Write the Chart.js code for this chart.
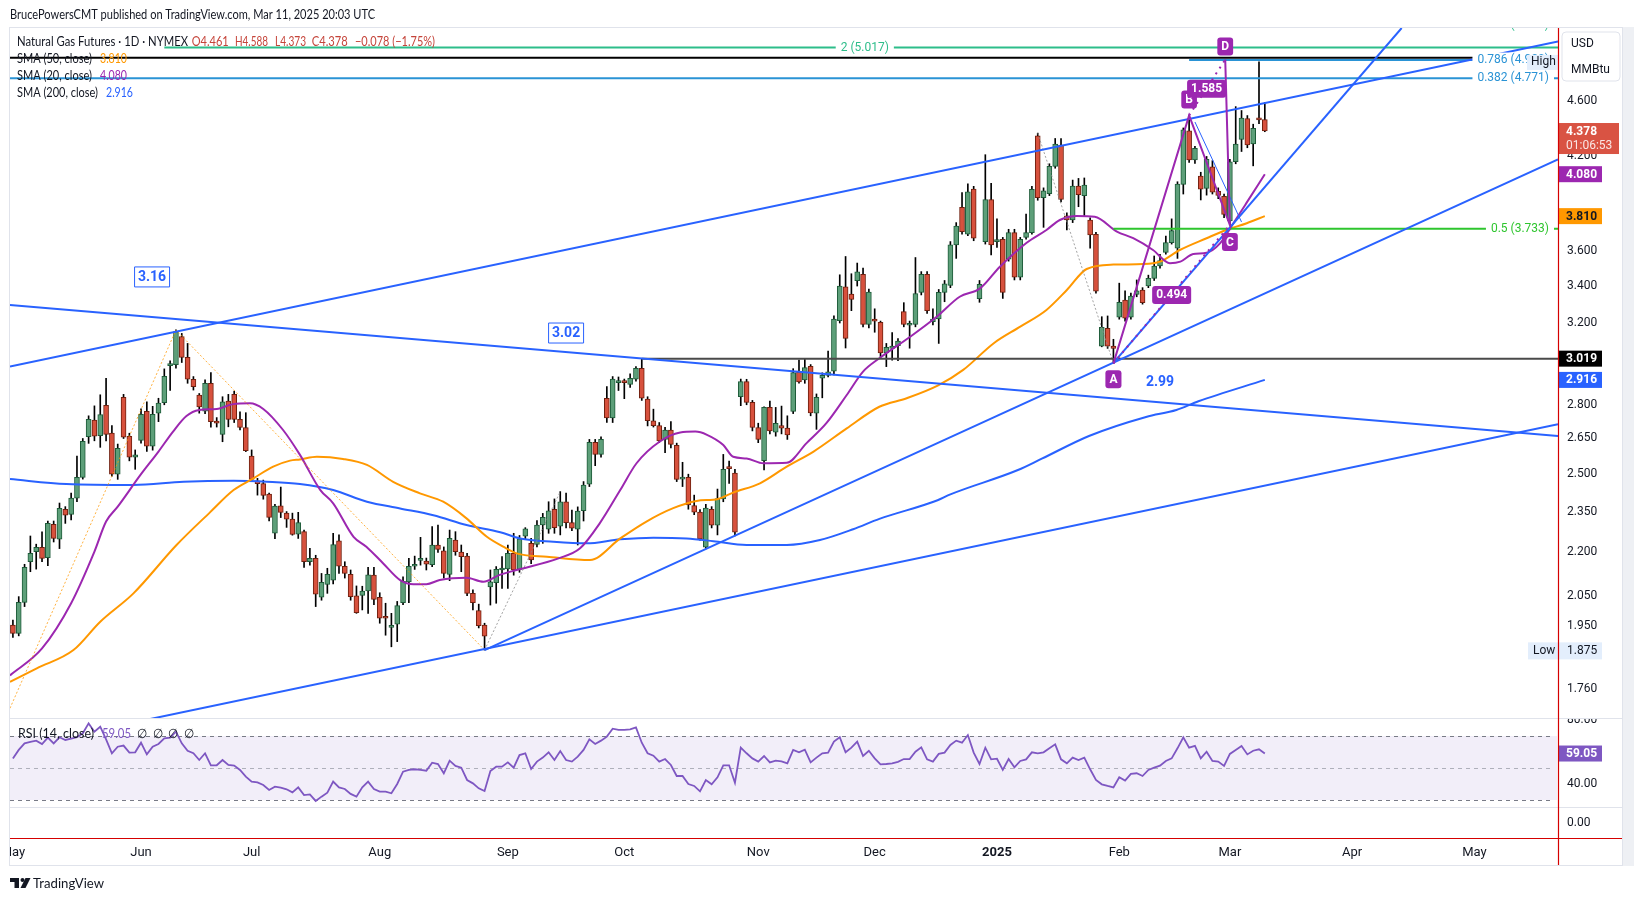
<!DOCTYPE html>
<html>
<head>
<meta charset="utf-8">
<title>Natural Gas Futures</title>
<script src="https://cdn.jsdelivr.net/npm/chart.js"></script>
<style>
  html, body { margin: 0; padding: 0; background: #fff; }
  body { width: 1634px; height: 901px; position: relative; overflow: hidden; }
  canvas { position: absolute; left: 0; top: 0; }
</style>
</head>
<body>
<canvas id="pricePane" width="1634" height="901"></canvas>
<canvas id="rsiPane" width="1634" height="901"></canvas>
<canvas id="timePane" width="1634" height="901"></canvas>
<script>
const FONT = 'Roboto, "Noto Sans", "DejaVu Sans", sans-serif';
const TFONT = 'Lato, Roboto, "Noto Sans", sans-serif';

// ---- data (bar index 0 = 3 Jun 2024, one index per trading day) ----
const firstBar = -22;
const opens = [
  1.954, 1.928, 2.028, 2.167, 2.203, 2.219, 2.181, 2.303, 2.248, 2.361,
  2.341, 2.404, 2.487, 2.658, 2.731, 2.662, 2.797, 2.673, 2.500, 2.834,
  2.659, 2.570, 2.642, 2.770, 2.617, 2.762, 2.810, 2.985, 2.990, 3.130,
  3.025, 2.919, 2.845, 2.771, 2.900, 2.727, 2.668, 2.817, 2.848, 2.734,
  2.698, 2.575, 2.473, 2.462, 2.420, 2.270, 2.374, 2.346, 2.323, 2.267,
  2.276, 2.167, 2.179, 2.045, 2.088, 2.103, 2.242, 2.151, 2.123, 2.050,
  2.051, 2.066, 2.120, 2.045, 1.981, 1.947, 1.957, 2.027, 2.097, 2.151,
  2.172, 2.169, 2.157, 2.227, 2.206, 2.123, 2.245, 2.201, 2.187, 2.058,
  2.001, 1.954, 2.080, 2.094, 2.138, 2.142, 2.197, 2.140, 2.259, 2.233,
  2.229, 2.301, 2.285, 2.361, 2.297, 2.390, 2.310, 2.285, 2.355, 2.460,
  2.634, 2.582, 2.830, 2.741, 2.903, 2.910, 2.895, 2.920, 2.972, 2.826,
  2.728, 2.706, 2.646, 2.687, 2.621, 2.480, 2.487, 2.375, 2.350, 2.219,
  2.361, 2.300, 2.401, 2.529, 2.505, 2.837, 2.908, 2.811, 2.698, 2.556,
  2.788, 2.677, 2.706, 2.695, 2.770, 2.955, 2.916, 2.982, 2.762, 2.924,
  2.938, 2.958, 3.212, 3.394, 3.355, 3.429, 3.465, 3.192, 3.220, 3.204,
  3.048, 3.070, 3.084, 3.260, 3.188, 3.192, 3.364, 3.464, 3.207, 3.221,
  3.364, 3.402, 3.635, 3.865, 3.700, 3.982, 3.330, 3.655, 3.915, 3.655,
  3.669, 3.551, 3.709, 3.448, 3.680, 3.709, 4.344, 3.927, 3.953, 4.132,
  4.279, 3.812, 3.786, 4.002, 3.940, 3.786, 3.699, 3.081, 3.172, 3.081,
  3.231, 3.322, 3.231, 3.353, 3.377, 3.400, 3.442, 3.512, 3.591, 3.649,
  3.616, 4.013, 4.380, 4.176, 4.068, 3.987, 4.130, 3.968, 3.936, 3.780,
  4.164, 4.318, 4.467, 4.287, 4.469, 4.461
];
const highs = [
  1.970, 2.047, 2.158, 2.260, 2.230, 2.275, 2.316, 2.316, 2.385, 2.371,
  2.424, 2.575, 2.650, 2.750, 2.795, 2.846, 2.924, 2.706, 2.626, 2.848,
  2.673, 2.601, 2.782, 2.814, 2.793, 2.830, 2.969, 3.008, 3.164, 3.146,
  3.095, 2.932, 2.852, 2.916, 2.951, 2.742, 2.837, 2.848, 2.863, 2.768,
  2.764, 2.601, 2.483, 2.476, 2.424, 2.380, 2.448, 2.352, 2.346, 2.349,
  2.282, 2.215, 2.190, 2.126, 2.144, 2.270, 2.264, 2.167, 2.138, 2.083,
  2.082, 2.147, 2.147, 2.060, 2.025, 1.992, 2.031, 2.114, 2.179, 2.187,
  2.255, 2.180, 2.295, 2.301, 2.220, 2.282, 2.276, 2.227, 2.197, 2.070,
  2.022, 1.960, 2.138, 2.150, 2.185, 2.227, 2.270, 2.262, 2.291, 2.251,
  2.318, 2.345, 2.390, 2.401, 2.430, 2.424, 2.358, 2.370, 2.470, 2.646,
  2.646, 2.657, 2.884, 2.932, 2.930, 2.920, 2.945, 2.980, 3.020, 2.837,
  2.780, 2.720, 2.699, 2.724, 2.630, 2.549, 2.500, 2.416, 2.360, 2.380,
  2.371, 2.440, 2.582, 2.554, 2.520, 2.920, 2.919, 2.820, 2.717, 2.791,
  2.817, 2.788, 2.794, 2.750, 2.970, 3.012, 3.020, 2.990, 2.850, 2.950,
  3.057, 3.237, 3.462, 3.567, 3.468, 3.529, 3.500, 3.382, 3.275, 3.210,
  3.095, 3.150, 3.120, 3.308, 3.210, 3.561, 3.480, 3.480, 3.275, 3.380,
  3.430, 3.655, 3.770, 3.959, 4.017, 4.000, 3.430, 4.212, 4.020, 3.793,
  3.680, 3.729, 3.729, 3.680, 3.823, 4.000, 4.363, 3.990, 4.150, 4.325,
  4.325, 3.830, 4.041, 4.052, 4.055, 3.800, 3.710, 3.233, 3.237, 3.116,
  3.415, 3.373, 3.360, 3.433, 3.390, 3.460, 3.570, 3.580, 3.688, 3.793,
  4.030, 4.400, 4.491, 4.270, 4.093, 4.200, 4.171, 3.990, 3.950, 4.180,
  4.556, 4.527, 4.490, 4.427, 4.901, 4.588
];
const lows = [
  1.915, 1.920, 2.014, 2.132, 2.141, 2.167, 2.153, 2.238, 2.214, 2.307,
  2.320, 2.390, 2.480, 2.629, 2.640, 2.612, 2.640, 2.492, 2.479, 2.650,
  2.555, 2.520, 2.630, 2.595, 2.600, 2.724, 2.800, 2.866, 2.972, 3.000,
  2.900, 2.868, 2.762, 2.760, 2.700, 2.700, 2.636, 2.701, 2.720, 2.687,
  2.594, 2.473, 2.416, 2.400, 2.316, 2.250, 2.329, 2.292, 2.263, 2.251,
  2.147, 2.155, 2.014, 2.035, 2.058, 2.090, 2.126, 2.110, 2.035, 1.992,
  2.003, 1.992, 2.020, 1.960, 1.922, 1.886, 1.902, 2.020, 2.027, 2.140,
  2.155, 2.138, 2.150, 2.200, 2.110, 2.101, 2.190, 2.132, 2.050, 2.003,
  1.945, 1.876, 2.019, 2.025, 2.075, 2.075, 2.120, 2.130, 2.250, 2.160,
  2.220, 2.233, 2.270, 2.270, 2.264, 2.290, 2.280, 2.227, 2.316, 2.450,
  2.535, 2.570, 2.720, 2.720, 2.866, 2.828, 2.880, 2.910, 2.820, 2.705,
  2.700, 2.632, 2.589, 2.610, 2.470, 2.450, 2.361, 2.340, 2.245, 2.213,
  2.290, 2.264, 2.390, 2.463, 2.260, 2.796, 2.800, 2.683, 2.632, 2.517,
  2.670, 2.660, 2.670, 2.646, 2.760, 2.900, 2.900, 2.750, 2.690, 2.832,
  2.930, 2.940, 3.200, 3.072, 3.265, 3.399, 3.180, 3.174, 3.152, 3.028,
  2.980, 3.012, 3.009, 3.180, 3.071, 3.180, 3.350, 3.250, 3.190, 3.095,
  3.313, 3.390, 3.556, 3.700, 3.690, 3.660, 3.310, 3.640, 3.576, 3.620,
  3.331, 3.540, 3.433, 3.433, 3.670, 3.700, 3.910, 3.741, 3.940, 4.120,
  3.900, 3.725, 3.770, 3.869, 3.810, 3.616, 3.360, 3.078, 3.070, 2.996,
  3.220, 3.210, 3.220, 3.340, 3.300, 3.390, 3.430, 3.500, 3.580, 3.640,
  3.556, 3.950, 4.160, 4.153, 3.912, 3.943, 3.950, 3.920, 3.800, 3.755,
  4.150, 4.234, 4.260, 4.136, 4.430, 4.373
];
const closes = [
  1.928, 2.028, 2.147, 2.197, 2.219, 2.179, 2.307, 2.251, 2.364, 2.338,
  2.404, 2.487, 2.638, 2.734, 2.660, 2.755, 2.668, 2.500, 2.608, 2.656,
  2.570, 2.580, 2.757, 2.617, 2.757, 2.808, 2.933, 2.992, 3.155, 3.025,
  2.919, 2.884, 2.790, 2.900, 2.724, 2.717, 2.813, 2.734, 2.734, 2.698,
  2.598, 2.479, 2.462, 2.415, 2.330, 2.373, 2.349, 2.323, 2.266, 2.310,
  2.167, 2.179, 2.055, 2.095, 2.123, 2.229, 2.151, 2.126, 2.047, 1.994,
  2.066, 2.121, 2.038, 1.976, 1.976, 1.950, 2.017, 2.099, 2.151, 2.158,
  2.176, 2.158, 2.227, 2.211, 2.126, 2.251, 2.203, 2.185, 2.058, 2.027,
  1.952, 1.919, 2.097, 2.140, 2.144, 2.197, 2.138, 2.250, 2.287, 2.173,
  2.301, 2.330, 2.355, 2.291, 2.390, 2.310, 2.289, 2.354, 2.456, 2.634,
  2.582, 2.646, 2.741, 2.920, 2.913, 2.903, 2.924, 2.972, 2.830, 2.728,
  2.706, 2.640, 2.687, 2.625, 2.479, 2.486, 2.378, 2.350, 2.249, 2.365,
  2.300, 2.402, 2.520, 2.523, 2.274, 2.908, 2.811, 2.698, 2.646, 2.788,
  2.683, 2.717, 2.695, 2.665, 2.951, 2.907, 2.975, 2.763, 2.834, 2.938,
  2.955, 3.220, 3.399, 3.121, 3.326, 3.479, 3.192, 3.366, 3.209, 3.048,
  3.075, 3.081, 3.107, 3.192, 3.195, 3.358, 3.464, 3.265, 3.221, 3.364,
  3.411, 3.635, 3.748, 3.714, 3.965, 3.675, 3.409, 3.915, 3.635, 3.665,
  3.364, 3.709, 3.448, 3.669, 3.709, 3.981, 3.927, 3.971, 4.132, 4.286,
  3.915, 3.786, 4.002, 3.946, 4.008, 3.695, 3.370, 3.178, 3.081, 3.070,
  3.310, 3.225, 3.344, 3.373, 3.308, 3.442, 3.512, 3.543, 3.649, 3.721,
  4.015, 4.387, 4.176, 4.256, 3.981, 4.180, 3.962, 3.941, 3.821, 4.164,
  4.285, 4.472, 4.280, 4.397, 4.458, 4.378
];
const rsiVals = [
  56.0, 61.3, 65.4, 66.3, 67.1, 65.0, 69.0, 65.4, 69.2, 67.5,
  68.3, 69.2, 71.7, 77.9, 72.7, 75.8, 67.9, 59.2, 63.3, 64.0,
  59.6, 59.8, 65.8, 58.5, 63.3, 65.0, 68.5, 69.0, 72.7, 65.4,
  60.8, 59.2, 55.0, 59.2, 51.7, 51.7, 55.0, 51.9, 51.5, 48.8,
  44.6, 41.5, 41.0, 39.4, 36.3, 38.3, 37.7, 36.7, 34.8, 37.9,
  33.1, 33.5, 29.4, 32.1, 34.6, 41.5, 37.9, 36.9, 33.8, 32.1,
  37.9, 41.5, 36.9, 35.2, 35.2, 34.2, 40.0, 47.7, 48.8, 49.2,
  48.8, 48.3, 53.3, 52.5, 46.7, 54.6, 51.3, 50.2, 42.5, 40.4,
  37.3, 35.6, 48.1, 50.8, 50.8, 53.5, 50.2, 58.1, 59.2, 49.4,
  54.0, 56.5, 59.8, 55.0, 60.6, 55.0, 54.0, 57.1, 61.3, 67.9,
  65.0, 67.1, 69.6, 74.6, 73.8, 73.8, 74.2, 75.4, 65.8, 59.2,
  57.7, 54.0, 55.6, 51.9, 45.0, 45.0, 40.0, 38.8, 35.4, 42.5,
  39.8, 44.2, 51.7, 51.7, 40.8, 62.7, 59.2, 56.0, 54.0, 57.5,
  53.5, 54.6, 54.2, 52.9, 61.3, 59.8, 61.5, 53.5, 56.5, 59.2,
  59.6, 66.5, 69.2, 59.8, 62.7, 66.5, 57.5, 60.8, 56.0, 52.3,
  52.5, 52.9, 53.8, 55.6, 55.6, 60.2, 62.9, 55.4, 54.0, 58.8,
  59.6, 64.4, 67.1, 65.8, 70.6, 59.6, 52.5, 62.7, 55.4, 55.8,
  48.8, 55.6, 50.4, 54.4, 55.4, 59.8, 59.2, 59.8, 62.3, 64.8,
  55.4, 52.9, 56.5, 55.0, 56.5, 49.2, 42.5, 39.8, 38.8, 37.9,
  44.2, 42.1, 46.3, 46.7, 45.0, 48.8, 50.2, 51.5, 54.4, 56.0,
  62.3, 69.2, 62.7, 63.8, 56.0, 60.2, 54.4, 54.0, 51.3, 58.8,
  61.3, 63.8, 58.5, 60.8, 61.7, 59.05
];
// moving averages: [bar index, value]
const sma20 = [[-22.5,1.80],[-17,1.881],[-12,2.025],[-8,2.203],[-6,2.314],[-4,2.371],[0,2.500],[3,2.594],[5.5,2.680],[7.8,2.749],[10,2.776],[13,2.781],[15.8,2.803],[18.7,2.807],[21,2.781],[24.4,2.687],[27.3,2.580],[30.8,2.436],[33,2.384],[36.5,2.257],[38.7,2.221],[41.6,2.161],[44.5,2.103],[46.8,2.089],[49,2.089],[51.3,2.103],[55.9,2.111],[58.8,2.097],[61.6,2.121],[64.5,2.138],[71.7,2.179],[75.4,2.215],[78.8,2.308],[82.3,2.436],[85.1,2.545],[89.1,2.637],[92.6,2.676],[95.2,2.680],[97.2,2.666],[100,2.622],[101.7,2.572],[104,2.565],[106.9,2.545],[110.9,2.547],[114.3,2.630],[117.7,2.717],[121.2,2.845],[124,2.956],[126.8,3.021],[132.1,3.129],[136.7,3.234],[140.6,3.340],[144.1,3.386],[147.5,3.508],[152.1,3.648],[155.5,3.725],[157.8,3.786],[160.7,3.811],[163.8,3.806],[167.6,3.715],[170.4,3.675],[173.8,3.605],[176.7,3.528],[178.5,3.537],[180.7,3.582],[183,3.589],[185.3,3.644],[187.6,3.766],[189.8,3.890],[193,4.080]];
const sma50 = [[-22.5,1.781],[-17.9,1.821],[-11.6,1.876],[-7,1.965],[-1.3,2.058],[6.1,2.227],[11.8,2.348],[15.9,2.436],[19.3,2.483],[22.7,2.531],[25.6,2.556],[27.3,2.561],[30.2,2.572],[34.7,2.563],[38.8,2.538],[43.3,2.469],[47.9,2.423],[51.9,2.390],[55.9,2.326],[59.4,2.257],[62.2,2.221],[64.8,2.195],[69.7,2.185],[77.1,2.173],[82.3,2.251],[86.8,2.314],[91.4,2.365],[95.4,2.393],[99.1,2.401],[101.7,2.426],[106.3,2.463],[110.9,2.531],[115.5,2.594],[121.2,2.694],[126.8,2.791],[131.5,2.830],[136.9,2.890],[141.2,2.964],[146.4,3.095],[151,3.181],[155.5,3.269],[159,3.377],[162.4,3.495],[167,3.520],[172.1,3.523],[175,3.537],[178.4,3.605],[183,3.675],[186.4,3.725],[189.9,3.766],[193,3.810]];
const sma200 = [[-22.5,2.480],[-12.8,2.460],[-1.3,2.456],[7.3,2.469],[15.9,2.473],[21.6,2.469],[27.3,2.460],[33,2.436],[38.8,2.390],[44.5,2.364],[50.2,2.338],[55.9,2.301],[61.7,2.274],[65.1,2.251],[70.8,2.239],[76.5,2.233],[82.3,2.248],[88,2.254],[93.7,2.251],[98.3,2.241],[104,2.227],[110.9,2.227],[116.6,2.245],[122.3,2.285],[126.8,2.324],[136.8,2.396],[139,2.419],[150.6,2.517],[154.7,2.564],[162.8,2.661],[172.6,2.745],[177.8,2.776],[181.6,2.816],[193,2.916]];

const monthIdx = [-22, 0, 19, 41, 63, 83, 106, 126, 147, 168, 187, 208, 229];
const monthLbl = ['May', 'Jun', 'Jul', 'Aug', 'Sep', 'Oct', 'Nov', 'Dec', '2025', 'Feb', 'Mar', 'Apr', 'May'];
const priceTicks = [1.76, 1.95, 2.05, 2.2, 2.35, 2.5, 2.65, 2.8, 3.2, 3.4, 3.6, 4.2, 4.6];
const rsiTicks = [40, 80];

// drawings: [bar index, price]
const channelUpper = [[-22.5, 2.980], [243.35, 5.067]];
const channelFalling = [[-22.5, 3.296], [243.35, 2.661]];
const channelLower = [[1.5, 1.676], [243.35, 2.712]];
const augLowLine = [[59, 1.876], [243.35, 4.18]];
const steepLine = [[167, 2.998], [216.5, 5.18]];
const thinBlue = [[181, 4.443], [189, 3.774]];
const fib2 = [[4, 5.017], [243.35, 5.017]];
const blackLevel = [[-22.5, 4.935], [243.35, 4.935]];
const fib786 = [[180, 4.917], [243.35, 4.917]];
const fib382 = [[-22.5, 4.771], [243.35, 4.771]];
const fib05 = [[167, 3.733], [243.35, 3.733]];
const level3019 = [[86, 3.019], [243.35, 3.019]];
const orangeDots = [[-22.5, 1.706], [6, 3.164], [59, 1.876]];
const grayDots1 = [[59, 1.876], [72, 2.430]];
const grayDots2 = [[154, 4.363], [167, 2.996]];
const abcd = [[167, 2.996], [180, 4.491], [187, 3.755], [186.2, 4.92]];
const abcdAC = [[167, 2.996], [187, 3.755]];
const abcdBD = [[180, 4.491], [186.2, 4.92]];

const X_MIN = -22.5, X_MAX = 243.35;
Chart.defaults.font.family = FONT;
Chart.defaults.color = '#131722';

// ---- helpers ----
function txt(ctx, s, x, y, color, size, weight, align, maxW, family) {
  ctx.font = (weight || 'normal') + ' ' + (size || 12) + 'px ' + (family || FONT);
  ctx.fillStyle = color;
  ctx.textAlign = align || 'left';
  ctx.textBaseline = 'middle';
  if (maxW) ctx.fillText(s, x, y, maxW); else ctx.fillText(s, x, y);
}
// legend-style text, squeezed to the width it takes in the picture
const ltxt = (ctx, s, x, y, color, maxW, size) => txt(ctx, s, x, y, color, size || 13, 'normal', 'left', maxW, TFONT);
function rbox(ctx, x, y, w, h, r, fill, stroke) {
  ctx.beginPath();
  ctx.roundRect(x, y, w, h, r);
  if (fill) { ctx.fillStyle = fill; ctx.fill(); }
  if (stroke) { ctx.strokeStyle = stroke; ctx.lineWidth = 1; ctx.stroke(); }
}
function lineTag(ctx, s, x, y, color, align) {
  ctx.font = '12px ' + FONT;
  const w = ctx.measureText(s).width;
  const left = align === 'right' ? x - w : x - w / 2;
  ctx.fillStyle = '#fff';
  ctx.fillRect(left - 5, y - 7, w + 10, 14);
  txt(ctx, s, x, y, color, 12, 'normal', align);
}
function tagBox(ctx, s, cx, cy, fill, color) {
  ctx.font = 'bold 12px ' + FONT;
  const w = Math.max(ctx.measureText(s).width + 8, 15);
  rbox(ctx, cx - w / 2, cy - 9, w, 18, 3, fill);
  txt(ctx, s, cx, cy + 0.5, color || '#fff', 12, 'bold', 'center');
}
function axisTag(ctx, s, left, cy, fill, color) {
  ctx.fillStyle = fill;
  ctx.fillRect(left, cy - 8, 43, 16);
  txt(ctx, s, left + 7, cy + 0.5, color || '#fff', 12, 'bold');
}
const pts = arr => arr.map(p => ({ x: p[0], y: p[1] }));
const seg = (arr, color, width, dash, order) => ({
  type: 'line', data: pts(arr), borderColor: color, borderWidth: width,
  borderDash: dash || [], pointRadius: 0, tension: 0, fill: false, order: order
});
const smaLine = (arr, color) => ({
  type: 'line', data: pts(arr), borderColor: color, borderWidth: 2, pointRadius: 0,
  cubicInterpolationMode: 'monotone', fill: false, order: 3
});
function rightAxis(extra) {
  return Object.assign({
    position: 'right',
    grid: { display: false, drawTicks: false },
    border: { display: false },
    afterFit(s) { s.width = 76; s.paddingTop = 0; s.paddingBottom = 0; }
  }, extra);
}
const hiddenX = { type: 'linear', min: X_MIN, max: X_MAX, offset: false, display: false };

// ---- price pane ----
const bars = closes.map((c, k) => ({ x: firstBar + k, o: opens[k], h: highs[k], l: lows[k], c }));
const isUp = b => b.c >= b.o;

const priceDeco = {
  id: 'priceDeco',
  afterDatasetsDraw(chart) {
    const { ctx, chartArea: a, scales: { x, y } } = chart;
    const X = v => x.getPixelForValue(v), Y = v => y.getPixelForValue(v);
    ctx.save();
    ctx.beginPath(); ctx.rect(a.left, a.top, a.right - a.left, a.bottom - a.top); ctx.clip();
    lineTag(ctx, '2 (5.017)', X(124.3), Y(5.017), '#2dbd8a', 'center');
    lineTag(ctx, '0.786 (4.920)', a.right - 9, Y(4.92), '#2a93d5', 'right');
    lineTag(ctx, '0.382 (4.771)', a.right - 9, Y(4.771), '#2a93d5', 'right');
    lineTag(ctx, '0.5 (3.733)', a.right - 9, Y(3.733), '#2ec52e', 'right');
    txt(ctx, '1.618 (5.180)', a.right - 9, Y(5.18) - 3, '#2dbd8a', 12, 'normal', 'right');
    // boxed price notes
    [['3.16', 1.9, 3.45], ['3.02', 73, 3.148]].forEach(([s, i, p]) => {
      const cx = X(i), cy = Y(p);
      rbox(ctx, cx - 17.5, cy - 10, 35, 20, 0, '#fff', '#2962ff');
      txt(ctx, s, cx, cy + 0.5, '#2962ff', 14, 'bold', 'center');
    });
    txt(ctx, '2.99', X(175), Y(2.906), '#2962ff', 14, 'bold', 'center');
    // ABCD labels
    const P = '#9c27b0';
    tagBox(ctx, 'A', X(167), Y(2.996) + 16, P);
    tagBox(ctx, 'B', X(180), Y(4.491) - 16, P);
    tagBox(ctx, 'C', X(187), Y(3.755) + 17, P);
    tagBox(ctx, 'D', X(186.2), Y(4.92) - 13, P);
    tagBox(ctx, '0.494', X(177), Y(3.35), P);
    tagBox(ctx, '1.585', X(183), Y(4.69), P);
    ctx.restore();
  },
  afterDraw(chart) {
    const { ctx, chartArea: a, scales: { y } } = chart;
    const Y = v => y.getPixelForValue(v);
    // legend block
    ltxt(ctx, 'Natural Gas Futures · 1D · NYMEX', 17, 42, '#131722', 171);
    const red = '#c5443a';
    ltxt(ctx, 'O4.461', 191.7, 42, red, 37);
    ltxt(ctx, 'H4.588', 235, 42, red, 33);
    ltxt(ctx, 'L4.373', 275, 42, red, 31);
    ltxt(ctx, 'C4.378', 311.7, 42, red, 36);
    ltxt(ctx, '−0.078 (−1.75%)', 355, 42, red, 80);
    ltxt(ctx, 'SMA (50, close)', 17, 59, '#131722', 75);
    ltxt(ctx, '3.810', 100, 59, '#ff9800', 27);
    ltxt(ctx, 'SMA (20, close)', 17, 76, '#131722', 75);
    ltxt(ctx, '4.080', 100, 76, '#9c27b0', 27);
    ltxt(ctx, 'SMA (200, close)', 17, 93, '#131722', 81);
    ltxt(ctx, '2.916', 106, 93, '#2962ff', 27);
    // axis tags
    const L = a.right + 1;
    rbox(ctx, 1562, 32, 58, 49, 4, '#fff', '#e0e3eb');
    txt(ctx, 'USD', 1571, 44, '#131722', 12);
    txt(ctx, 'MMBtu', 1571, 70, '#131722', 12);
    ctx.fillStyle = '#e3eefc';
    ctx.fillRect(a.right - 31, Y(4.901) - 7, 31, 15);
    txt(ctx, 'High', a.right - 27, Y(4.901) + 0.5, '#131722', 12);
    const cy = Y(4.378);
    ctx.fillStyle = '#d95343';
    ctx.fillRect(L, cy - 8, 60, 31);
    txt(ctx, '4.378', L + 7, cy + 0.5, '#fff', 12, 'bold');
    txt(ctx, '01:06:53', L + 7, cy + 15, 'rgba(255,255,255,0.85)', 12);
    axisTag(ctx, '4.080', L, Y(4.08), '#9c27b0');
    axisTag(ctx, '3.810', L, Y(3.81), '#ff9800', '#131722');
    axisTag(ctx, '3.019', L, Y(3.019), '#000000');
    axisTag(ctx, '2.916', L, Y(2.916), '#2962ff');
    ctx.fillStyle = '#e3eefc';
    ctx.fillRect(a.right - 30, Y(1.875) - 8, 74, 17);
    txt(ctx, 'Low', a.right - 25, Y(1.875) + 0.5, '#131722', 12);
    txt(ctx, '1.875', L + 8, Y(1.875) + 0.5, '#131722', 12);
  }
};

new Chart(document.getElementById('pricePane'), {
  type: 'bar',
  data: {
    datasets: [
      seg(abcd, '#9c27b0', 2, [], 0),
      seg(abcdAC, '#9c27b0', 2, [2, 5], 0),
      seg(abcdBD, '#9c27b0', 2, [2, 5], 0),
      seg(channelUpper, '#2962ff', 2, [], 1),
      seg(channelFalling, '#2962ff', 2, [], 1),
      seg(channelLower, '#2962ff', 2, [], 1),
      seg(augLowLine, '#2962ff', 2, [], 1),
      seg(steepLine, '#2962ff', 2, [], 1),
      seg(thinBlue, '#2962ff', 1, [], 1),
      seg(fib2, '#2dbd8a', 2, [], 1),
      seg(blackLevel, '#000000', 2, [], 1),
      seg(fib786, '#2a93d5', 2, [], 1),
      seg(fib382, '#2a93d5', 2, [], 1),
      seg(fib05, '#2ec52e', 2, [], 1),
      seg(level3019, '#4a4a4a', 2, [], 1),
      seg(orangeDots, 'rgba(255,152,0,0.75)', 1, [2, 2], 2),
      seg(grayDots1, 'rgba(140,140,140,0.8)', 1, [2, 2], 2),
      seg(grayDots2, 'rgba(140,140,140,0.8)', 1, [2, 2], 2),
      smaLine(sma20, '#9c27b0'),
      smaLine(sma50, '#ff9800'),
      smaLine(sma200, '#2962ff'),
      {
        type: 'bar', order: 4, grouped: false, barThickness: 5, minBarLength: 2,
        data: bars.map(b => ({ x: b.x, y: [Math.min(b.o, b.c), Math.max(b.o, b.c)] })),
        backgroundColor: bars.map(b => isUp(b) ? '#5d9f79' : '#d7513d'),
        borderColor: bars.map(b => isUp(b) ? '#1e5b39' : '#70200f'),
        borderWidth: 1, borderSkipped: false
      },
      {
        type: 'bar', order: 5, grouped: false, barThickness: 1,
        data: bars.map(b => ({ x: b.x, y: [b.l, b.h] })),
        backgroundColor: '#000000'
      }
    ]
  },
  options: {
    responsive: false, animation: false, events: [],
    layout: { padding: { left: 10, top: 28, right: 0, bottom: 183 } },
    plugins: { legend: { display: false }, tooltip: { enabled: false } },
    scales: {
      x: hiddenX,
      y: rightAxis({
        type: 'logarithmic', min: 1.679, max: 5.18,
        afterBuildTicks(s) { s.ticks = priceTicks.map(v => ({ value: v })); },
        ticks: { padding: 9, color: '#131722', font: { size: 12 }, callback: v => Number(v).toFixed(3) }
      })
    }
  },
  plugins: [priceDeco]
});

// ---- RSI pane ----
const rsiDeco = {
  id: 'rsiDeco',
  beforeDraw(chart) {
    const c = chart.ctx;
    c.save(); c.beginPath(); c.rect(0, 718, chart.width, 89); c.clip();
  },
  beforeDatasetsDraw(chart) {
    const { ctx, chartArea: a, scales: { y } } = chart;
    const Y = v => y.getPixelForValue(v);
    ctx.fillStyle = 'rgba(126,87,194,0.1)';
    ctx.fillRect(a.left, Y(70), a.right - a.left - 1, Y(30) - Y(70));
    ctx.save();
    ctx.lineWidth = 1;
    ctx.setLineDash([4, 4]);
    [[70, '#787b86'], [50, 'rgba(120,123,134,0.55)'], [30, '#787b86']].forEach(([v, col]) => {
      ctx.strokeStyle = col;
      ctx.beginPath(); ctx.moveTo(a.left, Math.round(Y(v)) + 0.5); ctx.lineTo(a.right - 6, Math.round(Y(v)) + 0.5); ctx.stroke();
    });
    ctx.restore();
  },
  afterDraw(chart) {
    const { ctx, chartArea: a, scales: { y } } = chart;
    ltxt(ctx, 'RSI (14, close)', 18, 734, '#131722', 76);
    ltxt(ctx, '59.05', 102, 734, '#7e57c2', 29);
    ['∅', '∅', '∅', '∅'].forEach((s, k) => ltxt(ctx, s, 137 + k * 15.5, 734, '#131722', 10));
    axisTag(ctx, '59.05', a.right + 1, y.getPixelForValue(59.05), '#7e57c2');
    ctx.restore();
  }
};

new Chart(document.getElementById('rsiPane'), {
  type: 'line',
  data: {
    datasets: [{
      data: rsiVals.map((v, k) => ({ x: firstBar + k, y: v })),
      borderColor: '#7e57c2', borderWidth: 1.8, pointRadius: 0, tension: 0, fill: false
    }]
  },
  options: {
    responsive: false, animation: false, events: [],
    layout: { padding: { left: 10, top: 718, right: 0, bottom: 94 } },
    plugins: { legend: { display: false }, tooltip: { enabled: false } },
    scales: {
      x: hiddenX,
      y: rightAxis({
        type: 'linear', min: 25.625, max: 81.25,
        afterBuildTicks(s) { s.ticks = rsiTicks.map(v => ({ value: v })); },
        ticks: { padding: 9, color: '#131722', font: { size: 12 }, callback: v => Number(v).toFixed(2) }
      })
    }
  },
  plugins: [rsiDeco]
});

// ---- empty pane + time axis + frame ----
const frameDeco = {
  id: 'frameDeco',
  afterDraw(chart) {
    const { ctx, chartArea: a } = chart;
    ctx.save();
    ctx.fillStyle = '#fff';
    ctx.fillRect(0, 839, 9.5, 26);
    // separators
    ctx.strokeStyle = '#e0e3eb'; ctx.lineWidth = 1;
    [718.5, 807.5].forEach(yy => { ctx.beginPath(); ctx.moveTo(10, yy); ctx.lineTo(1622, yy); ctx.stroke(); });
    ctx.fillStyle = '#eef0f4';
    ctx.fillRect(1623, 27, 11, 839);
    ctx.strokeStyle = '#e0e3eb';
    ctx.strokeRect(9.5, 27.5, 1613, 838);
    // red markers
    ctx.strokeStyle = '#d50000'; ctx.lineWidth = 1.2;
    ctx.beginPath(); ctx.moveTo(10, a.bottom + 0.5); ctx.lineTo(1622, a.bottom + 0.5); ctx.stroke();
    ctx.beginPath(); ctx.moveTo(a.right + 0.5, 28); ctx.lineTo(a.right + 0.5, 865); ctx.stroke();
    // header and footer
    ltxt(ctx, 'BrucePowersCMT published on TradingView.com, Mar 11, 2025 20:03 UTC', 10, 15, '#131722', 365, 13.5);
    ctx.fillStyle = '#131722';
    ctx.fillRect(10, 878, 9, 4);
    ctx.fillRect(14.5, 878, 4.5, 10);
    ctx.beginPath(); ctx.arc(22.5, 880, 2, 0, Math.PI * 2); ctx.fill();
    ctx.beginPath(); ctx.moveTo(25.5, 878); ctx.lineTo(30.5, 878); ctx.lineTo(25.5, 888); ctx.lineTo(20.5, 888); ctx.closePath(); ctx.fill();
    ltxt(ctx, 'TradingView', 33, 883, '#131722', 71, 14);
    ctx.restore();
  }
};

new Chart(document.getElementById('timePane'), {
  type: 'line',
  data: { datasets: [] },
  options: {
    responsive: false, animation: false, events: [],
    layout: { padding: { left: 10, top: 807, right: 0, bottom: 36 } },
    plugins: { legend: { display: false }, tooltip: { enabled: false } },
    scales: {
      x: {
        type: 'linear', min: X_MIN, max: X_MAX, offset: false, position: 'bottom',
        grid: { display: false, drawTicks: false }, border: { display: false },
        afterBuildTicks(s) { s.ticks = monthIdx.map(v => ({ value: v })); },
        afterFit(s) { s.height = 27; s.paddingLeft = 0; s.paddingRight = 0; },
        ticks: {
          autoSkip: false, maxRotation: 0, minRotation: 0, padding: 7, color: '#131722',
          font: c => ({ size: 13, weight: monthLbl[c.index] === '2025' ? 'bold' : 'normal' }),
          callback: (v, k) => monthLbl[k]
        }
      },
      y: rightAxis({
        type: 'linear', min: -1, max: 1,
        afterBuildTicks(s) { s.ticks = [{ value: 0 }]; },
        ticks: { padding: 9, color: '#131722', font: { size: 12 }, callback: v => Number(v).toFixed(2) }
      })
    }
  },
  plugins: [frameDeco]
});
</script>
</body>
</html>
